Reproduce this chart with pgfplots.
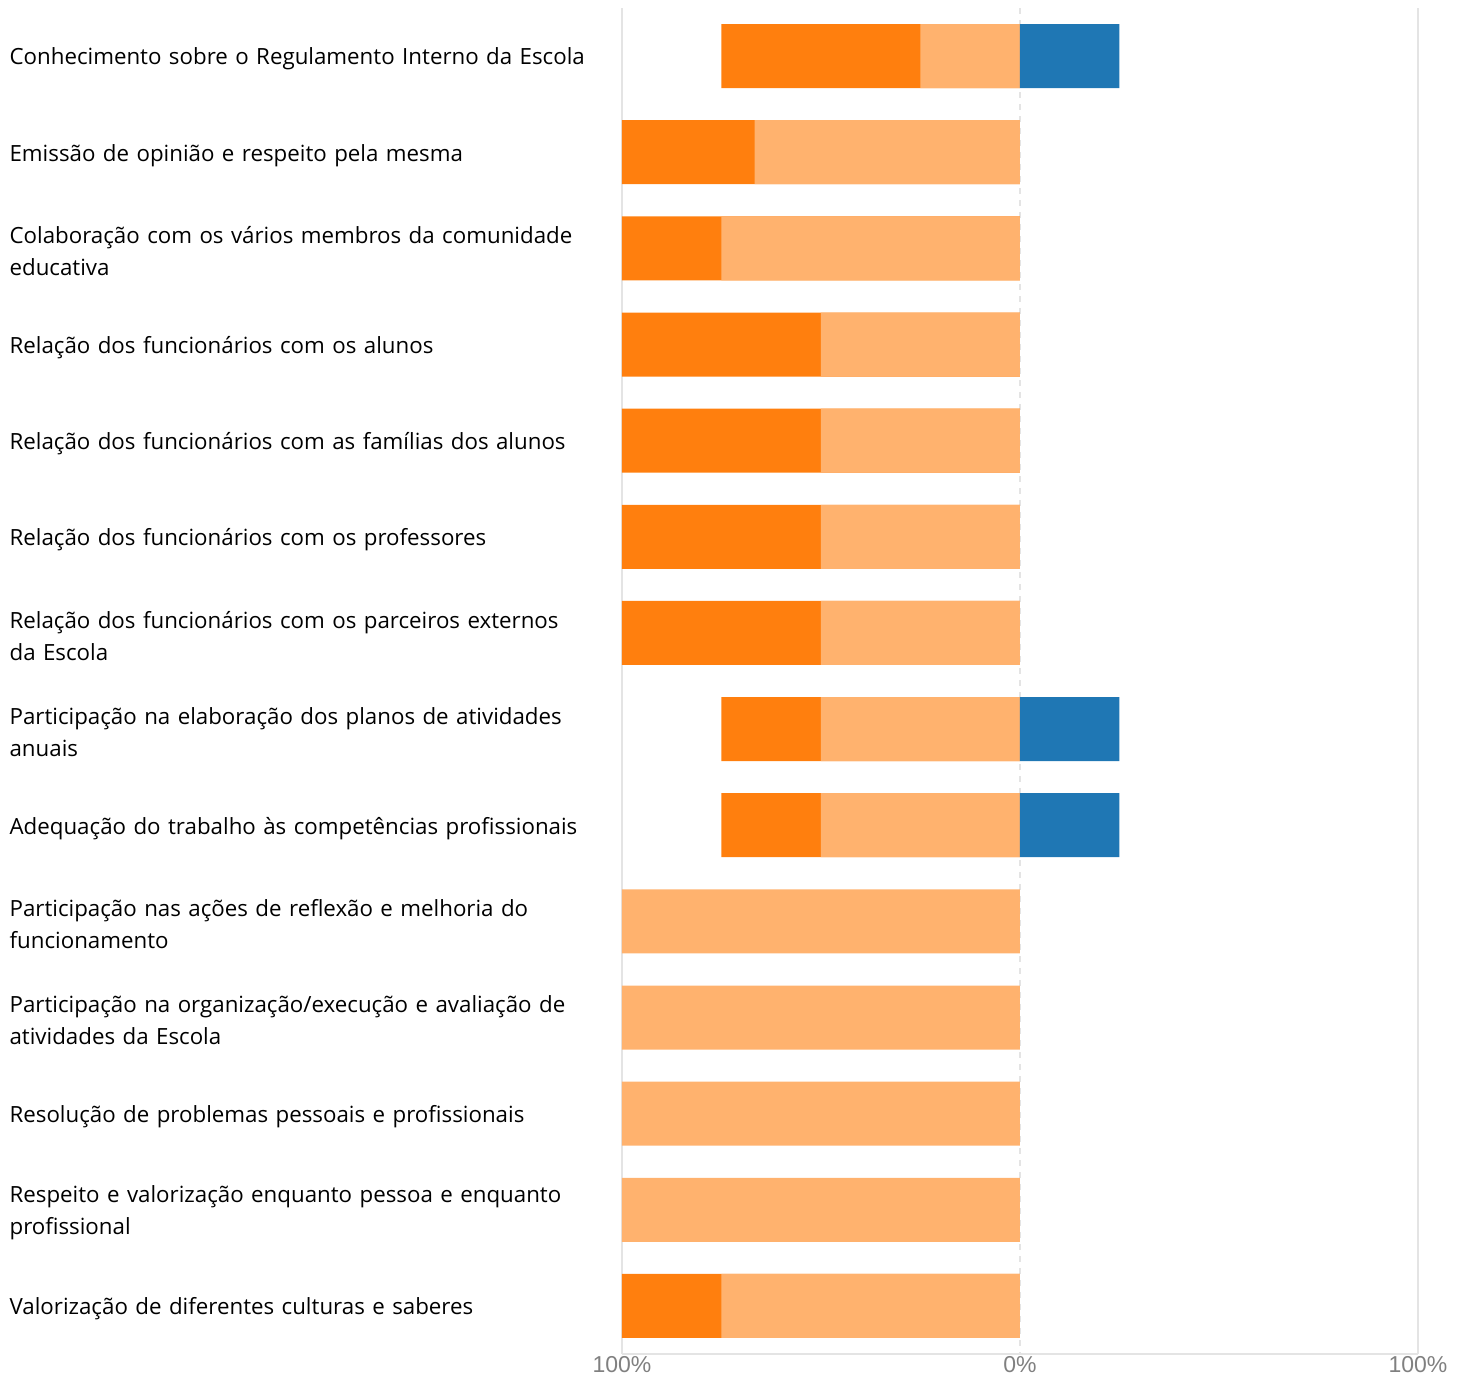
\documentclass[border=0pt]{standalone}
\usepackage{fontspec}
\setmainfont{Open Sans}
\newfontfamily\tickfont{Liberation Sans}
\usepackage{pgfplots}
\pgfplotsset{compat=1.18}
\definecolor{dorange}{HTML}{FF7F0E}
\definecolor{lorange}{HTML}{FFB26E}
\definecolor{dblue}{HTML}{1F77B4}
\definecolor{gridc}{HTML}{E4E4E4}
\definecolor{tickc}{HTML}{808080}
\begin{document}
\begin{tikzpicture}
\begin{axis}[
  at={(0,0)}, anchor=south west,
  scale only axis, width=398pt, height=673pt,
  xmin=-100, xmax=100, ymin=-0.5, ymax=13.5, y dir=reverse,
  xbar, bar width=32pt, bar shift=0pt,
  axis x line*=bottom, axis y line*=left,
  x axis line style={draw=gridc, line width=0.6pt, -},
  y axis line style={draw=none},
  major tick length=0pt,
  xtick={-100,100}, xticklabels={100\%,100\%},
  extra x ticks={0}, extra x tick labels={0\%},
  extra x tick style={grid=major, major grid style={gridc, dashed, line width=0.8pt}},
  xmajorgrids, major grid style={gridc, line width=0.8pt},
  xticklabel style={font=\tickfont\fontsize{11.5}{11.5}\selectfont, text=tickc, inner sep=0pt, yshift=-1pt},
  ytick={0,...,13},
  yticklabels={
    {Conhecimento sobre o Regulamento Interno da Escola},
    {Emissão de opinião e respeito pela mesma},
    {Colaboração com os vários membros da comunidade\\educativa},
    {Relação dos funcionários com os alunos},
    {Relação dos funcionários com as famílias dos alunos},
    {Relação dos funcionários com os professores},
    {Relação dos funcionários com os parceiros externos\\da Escola},
    {Participação na elaboração dos planos de atividades\\anuais},
    {Adequação do trabalho às competências profissionais},
    {Participação nas ações de reflexão e melhoria do\\funcionamento},
    {Participação na organização/execução e avaliação de\\atividades da Escola},
    {Resolução de problemas pessoais e profissionais},
    {Respeito e valorização enquanto pessoa e enquanto\\profissional},
    {Valorização de diferentes culturas e saberes}},
  yticklabel style={font=\fontsize{11.15}{16}\selectfont, text width=306pt, align=left, inner sep=0pt, anchor=east, yshift=-1.5pt},
]
% dark orange: full extent of the negative side (dark + light)
\addplot[fill=dorange, draw=none] coordinates {
  (-75,0) (-100,1) (-100,2) (-100,3) (-100,4) (-100,5) (-100,6) (-75,7) (-75,8) (-100,13)};
% light orange: part next to 0
\addplot[fill=lorange, draw=none] coordinates {
  (-25,0) (-66.7,1) (-75,2) (-50,3) (-50,4) (-50,5) (-50,6) (-50,7) (-50,8)
  (-100,9) (-100,10) (-100,11) (-100,12) (-75,13)};
% blue: positive side
\addplot[fill=dblue, draw=none] coordinates {(25,0) (25,7) (25,8)};
\end{axis}
\path[use as bounding box] (-311pt,-12pt) rectangle (421pt,677pt);
\end{tikzpicture}
\end{document}
